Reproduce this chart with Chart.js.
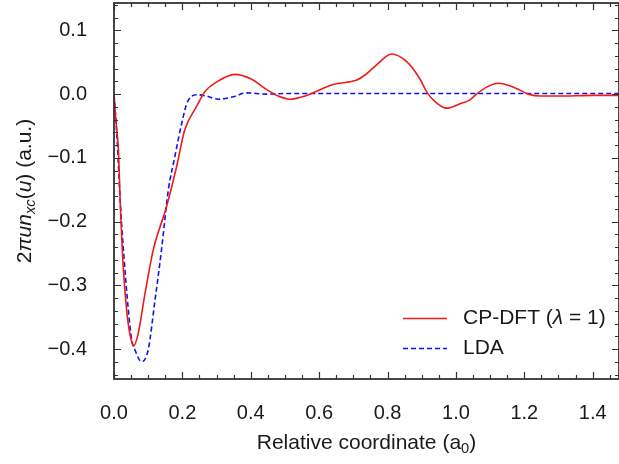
<!DOCTYPE html>
<html>
<head>
<meta charset="utf-8">
<script src="https://cdn.jsdelivr.net/npm/chart.js@4"></script>
<style>
  html, body { margin: 0; padding: 0; background: #fff; }
</style>
</head>
<body>
<canvas id="myChart" width="619" height="464"></canvas>
<script>
// values
const redX = [0, 0.006, 0.013, 0.018, 0.027, 0.037, 0.047, 0.058, 0.071, 0.091, 0.115, 0.154, 0.183, 0.207, 0.242, 0.266, 0.300, 0.354, 0.400, 0.447, 0.480, 0.515, 0.545, 0.573, 0.641, 0.710, 0.734, 0.768, 0.812, 0.856, 0.890, 0.919, 0.944, 0.973, 1.012, 1.041, 1.060, 1.090, 1.124, 1.177, 1.212, 1.246, 1.300, 1.400, 1.480];
const redY = [0, -0.045, -0.088, -0.166, -0.271, -0.339, -0.378, -0.395, -0.375, -0.312, -0.244, -0.176, -0.114, -0.056, -0.019, 0.004, 0.019, 0.031, 0.024, 0.007, -0.003, -0.008, -0.005, 0.000, 0.015, 0.022, 0.030, 0.046, 0.063, 0.051, 0.028, 0.000, -0.014, -0.022, -0.015, -0.009, 0.000, 0.011, 0.017, 0.009, 0.000, -0.003, -0.003, -0.002, -0.002];

const blueX = [0, 0.008, 0.018, 0.027, 0.042, 0.052, 0.061, 0.081, 0.100, 0.120, 0.139, 0.159, 0.178, 0.198, 0.215, 0.245, 0.270, 0.305, 0.349, 0.388, 0.446, 0.500, 0.700, 0.900, 1.100, 1.300, 1.480];
const blueY = [0, -0.060, -0.166, -0.240, -0.339, -0.386, -0.401, -0.420, -0.401, -0.323, -0.244, -0.150, -0.098, -0.046, -0.012, -0.001, -0.003, -0.008, -0.004, 0.002, 0.000, 0.001, 0.001, 0.001, 0.001, 0.001, 0.001];

const xTicks = [0.0, 0.2, 0.4, 0.6, 0.8, 1.0, 1.2, 1.4];
const yTicks = [-0.4, -0.3, -0.2, -0.1, 0.0, 0.1];

const FONT = '"Liberation Sans", Arial, sans-serif';
const INK = '#1a1a1a';

// draw a row of text pieces (some italic / subscript), centred on 0,0
function drawPieces(ctx, pieces, size, align) {
  const widths = pieces.map(p => {
    ctx.font = (p.it ? 'italic ' : '') + (p.sub ? size * 0.7 : size) + 'px ' + FONT;
    return ctx.measureText(p.t).width;
  });
  const total = widths.reduce((a, b) => a + b, 0);
  let x = align === 'left' ? 0 : -total / 2;
  pieces.forEach((p, i) => {
    ctx.font = (p.it ? 'italic ' : '') + (p.sub ? size * 0.7 : size) + 'px ' + FONT;
    ctx.fillText(p.t, x, p.sub ? size * 0.28 : 0);
    x += widths[i];
  });
}

const framePlugin = {
  id: 'frame',
  afterDraw(chart) {
    const { ctx, chartArea: a, scales: { x, y } } = chart;
    ctx.save();
    ctx.strokeStyle = '#333';
    ctx.lineWidth = 1.8;
    ctx.strokeRect(a.left, a.top, a.right - a.left, a.bottom - a.top);

    ctx.lineWidth = 1.2;
    ctx.beginPath();
    for (let i = 0; i <= 29; i++) {
      const px = Math.round(x.getPixelForValue(i * 0.05)) + 0.5;
      if (px > a.right) break;
      const len = i % 4 === 0 ? 7 : 4;
      ctx.moveTo(px, a.bottom); ctx.lineTo(px, a.bottom - len);
      ctx.moveTo(px, a.top); ctx.lineTo(px, a.top + len);
    }
    for (let j = -22; j <= 7; j++) {
      const py = Math.round(y.getPixelForValue(j * 0.02)) + 0.5;
      if (py < a.top || py > a.bottom) continue;
      const len = j % 5 === 0 ? 7 : 4;
      ctx.moveTo(a.left, py); ctx.lineTo(a.left + len, py);
      ctx.moveTo(a.right, py); ctx.lineTo(a.right - len, py);
    }
    ctx.stroke();

    ctx.fillStyle = INK;
    ctx.textBaseline = 'middle';

    // x axis title
    ctx.save();
    ctx.translate((a.left + a.right) / 2, 443);
    drawPieces(ctx, [{ t: 'Relative coordinate (a' }, { t: '0', sub: true }, { t: ')' }], 21);
    ctx.restore();

    // y axis title
    ctx.save();
    ctx.translate(25, (a.top + a.bottom) / 2);
    ctx.rotate(-Math.PI / 2);
    drawPieces(ctx, [{ t: '2' }, { t: '\u03c0un', it: true }, { t: 'xc', it: true, sub: true },
      { t: '(' }, { t: 'u', it: true }, { t: ') (a.u.)' }], 21);
    ctx.restore();

    // legend
    const ds = chart.data.datasets;
    const rows = [318, 348];
    ds.forEach((d, k) => {
      ctx.save();
      ctx.strokeStyle = d.borderColor;
      ctx.lineWidth = 1.3;
      ctx.setLineDash(d.borderDash || []);
      ctx.beginPath();
      ctx.moveTo(403, rows[k] + 0.5); ctx.lineTo(447, rows[k] + 0.5);
      ctx.stroke();
      ctx.restore();
      ctx.save();
      ctx.translate(463, rows[k]);
      drawPieces(ctx, d.pieces, 21, 'left');
      ctx.restore();
    });
    ctx.restore();
  }
};

new Chart(document.getElementById('myChart'), {
  type: 'scatter',
  data: {
    datasets: [{
      label: 'CP-DFT (\u03bb = 1)',
      pieces: [{ t: 'CP-DFT (' }, { t: '\u03bb', it: true }, { t: ' = 1)' }],
      data: redX.map((v, i) => ({ x: v, y: redY[i] })),
      borderColor: '#f01a1a',
      borderWidth: 1.6,
      showLine: true,
      pointRadius: 0,
      cubicInterpolationMode: 'monotone'
    }, {
      label: 'LDA',
      pieces: [{ t: 'LDA' }],
      data: blueX.map((v, i) => ({ x: v, y: blueY[i] })),
      borderColor: '#1010f5',
      borderWidth: 1.6,
      borderDash: [5, 3],
      showLine: true,
      pointRadius: 0,
      cubicInterpolationMode: 'monotone'
    }]
  },
  options: {
    responsive: false,
    animation: false,
    layout: { padding: { top: 3, right: 0, left: 0, bottom: 0 } },
    plugins: { legend: { display: false }, tooltip: { enabled: false } },
    scales: {
      x: {
        type: 'linear', min: 0, max: 1.477,
        grid: { display: false, drawTicks: false },
        border: { display: false },
        afterBuildTicks: s => { s.ticks = xTicks.map(v => ({ value: v })); },
        afterFit: s => { s.height = 85; s.paddingLeft = 0; s.paddingRight = 0; },
        ticks: {
          font: { family: FONT, size: 20 }, color: INK, padding: 22,
          maxRotation: 0, autoSkip: false,
          callback: v => v.toFixed(1)
        }
      },
      y: {
        type: 'linear', min: -0.447, max: 0.143,
        grid: { display: false, drawTicks: false },
        border: { display: false },
        afterBuildTicks: s => { s.ticks = yTicks.map(v => ({ value: v })); },
        afterFit: s => { s.width = 114; s.paddingTop = 0; s.paddingBottom = 0; },
        ticks: {
          font: { family: FONT, size: 20 }, color: INK, padding: 27,
          autoSkip: false,
          callback: v => (v < -1e-9 ? '\u2212' : '') + Math.abs(v).toFixed(1)
        }
      }
    }
  },
  plugins: [framePlugin]
});
</script>
</body>
</html>
